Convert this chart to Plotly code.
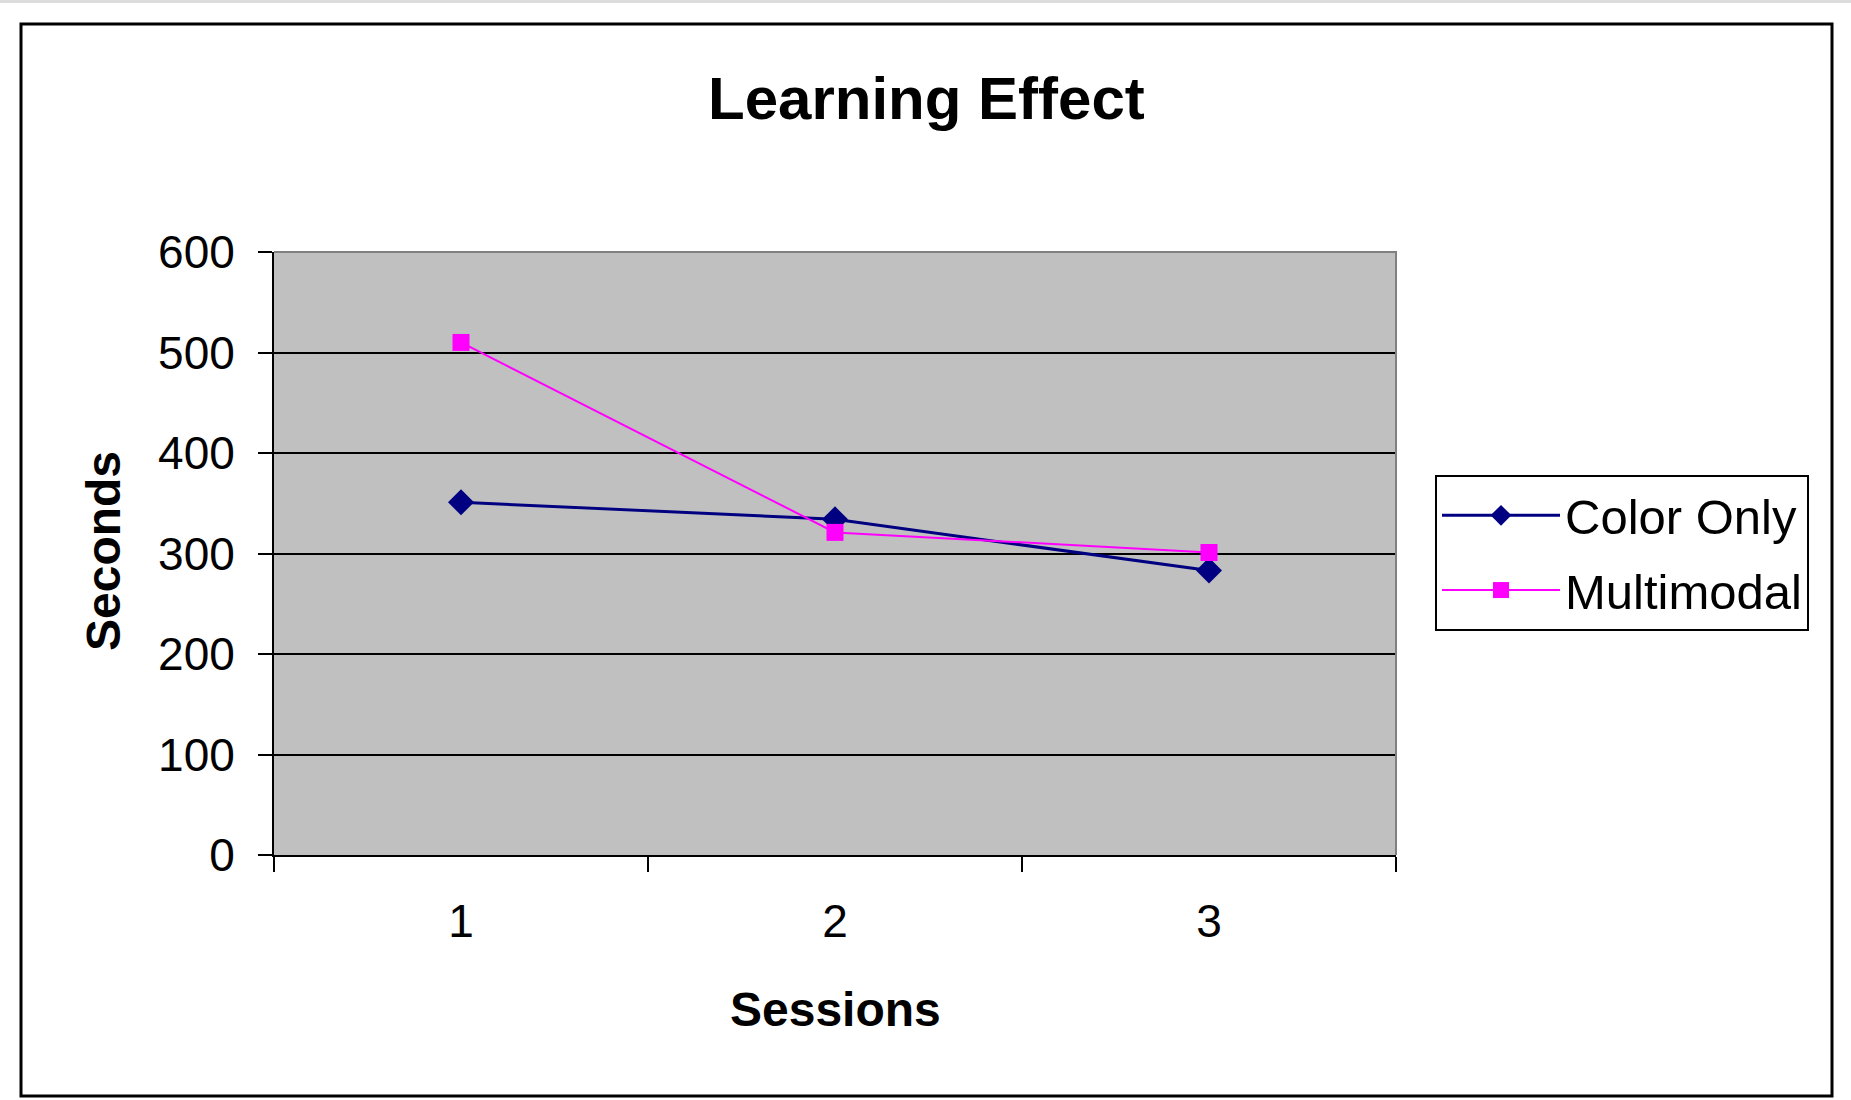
import plotly.graph_objects as go

# ---- data ----
sessions = ["1", "2", "3"]
color_only = [351, 334, 283]
multimodal = [510, 321, 301]
y_ticks = [0, 100, 200, 300, 400, 500, 600]

W, H = 1851, 1100
L, R, T, B = 274, 455, 252, 245
PW, PH = W - L - R, H - T - B


def px(x):
    return (x - L) / PW


def py(y):
    return (H - B - y) / PH


FONT = "Liberation Sans, Arial, sans-serif"

fig = go.Figure()
fig.add_trace(go.Scatter(
    x=sessions, y=color_only, name="Color Only", mode="lines+markers",
    line=dict(color="#000080", width=3),
    marker=dict(symbol="diamond", size=20, color="#000080"),
    legendgroup="a",
))
fig.add_trace(go.Scatter(
    x=sessions, y=multimodal, name="Multimodal", mode="lines+markers",
    line=dict(color="#FF00FF", width=2),
    marker=dict(symbol="square", size=17, color="#FF00FF"),
    legendgroup="b",
))

fig.update_layout(
    width=W, height=H,
    margin=dict(l=L, r=R, t=T, b=B, pad=0),
    paper_bgcolor="white",
    plot_bgcolor="#C0C0C0",
    font=dict(family=FONT, color="black"),
    showlegend=True,
    legend=dict(
        x=px(1435), y=py(475), xanchor="left", yanchor="top",
        bordercolor="black", borderwidth=2, bgcolor="white",
        font=dict(size=49, family=FONT),
        traceorder="grouped", tracegroupgap=8,
        itemwidth=118,
    ),
    xaxis=dict(
        type="category", categoryorder="array", categoryarray=sessions,
        range=[-0.5, 2.5], tickson="boundaries",
        ticks="outside", ticklen=15, tickwidth=2, tickcolor="black",
        showline=True, linecolor="black", linewidth=2,
        showgrid=False, zeroline=False,
        tickfont=dict(size=46, family=FONT),
        ticklabelstandoff=25,
    ),
    yaxis=dict(
        range=[0, 600], tickvals=y_ticks,
        ticks="outside", ticklen=14, tickwidth=2, tickcolor="black",
        showline=True, linecolor="black", linewidth=2,
        showgrid=True, gridcolor="black", gridwidth=2,
        zeroline=False,
        tickfont=dict(size=46, family=FONT),
        ticklabelstandoff=14,
    ),
    annotations=[
        dict(text="<b>Learning Effect</b>", xref="paper", yref="paper",
             x=px(926), y=py(98), xanchor="center", yanchor="middle",
             showarrow=False, font=dict(size=60, family=FONT)),
        dict(text="<b>Seconds</b>", xref="paper", yref="paper",
             x=px(103), y=py(551), xanchor="center", yanchor="middle",
             textangle=-90, showarrow=False, font=dict(size=48, family=FONT)),
        dict(text="<b>Sessions</b>", xref="paper", yref="paper",
             x=px(835), y=py(1009), xanchor="center", yanchor="middle",
             showarrow=False, font=dict(size=48, family=FONT)),
    ],
    shapes=[
        # gray top band of the page
        dict(type="rect", xref="paper", yref="paper",
             x0=px(0), x1=px(W), y0=py(0), y1=py(3),
             fillcolor="#DCDCDC", line=dict(width=0), layer="below"),
        # outer chart frame
        dict(type="rect", xref="paper", yref="paper",
             x0=px(21), x1=px(1832), y0=py(1096), y1=py(24),
             line=dict(color="black", width=3), fillcolor="rgba(0,0,0,0)",
             layer="below"),
        # gray top/right plot border
        dict(type="path", xref="paper", yref="paper",
             path="M 0,1 L 1,1 L 1,0",
             line=dict(color="#808080", width=2), layer="above"),
    ],
)

fig.write_html(
    "out.html",
    config={"displayModeBar": False},
    post_script="document.body.style.margin='0';document.body.style.overflow='hidden';",
)
